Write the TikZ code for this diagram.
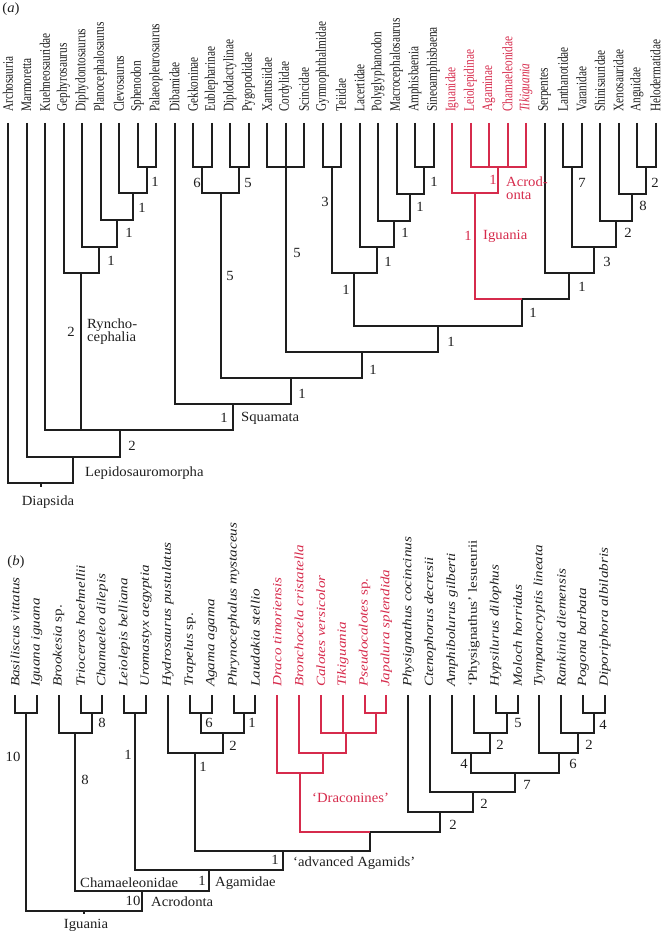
\documentclass[tikz,border=0pt]{standalone}
\usepackage{fontspec}
\setmainfont{Liberation Serif}
\newfontfamily\tipafamily[FakeStretch=0.78]{Liberation Serif}
\newfontfamily\tipbfamily[FakeStretch=1.2]{Liberation Serif}
\newfontfamily\lblfamily[FakeStretch=1.05]{Liberation Serif}
\definecolor{ink}{HTML}{1E1E1E}
\definecolor{cladered}{RGB}{214,43,76}
\tikzset{
    branch/.style={draw=ink, line width=2pt},
    redbranch/.style={draw=cladered, line width=2pt},
    tipa/.style={rotate=90, anchor=west, inner sep=0pt, text=ink, font=\tipafamily\fontsize{14.5}{16}\selectfont},
    tipb/.style={rotate=90, anchor=west, inner sep=0pt, text=ink, font=\tipbfamily\fontsize{12.6}{14}\selectfont\itshape},
    support/.style={inner sep=0pt, text=ink, font=\lblfamily\fontsize{14}{15}\selectfont},
    cladename/.style={support, anchor=west, align=left}
}

\begin{document}
\begin{tikzpicture}[x=1pt, y=-1pt]
\useasboundingbox (0,0) rectangle (664,933);

% ---------- (a) ----------
\node[support] (panela) at (11,9) {(\textit{a})};
\foreach \name [count=\i from 0] in {Archosauria, Marmoretta, Kuehneosauridae, Gephyrosaurus, Diphydontosaurus, Planocephalosaurus, Clevosaurus, Sphenodon, Palaeopleurosaurus, Dibamidae, Gekkoninae, Eublepharinae, Diplodactylinae, Pygopodidae, Xantusiidae, Cordylidae, Scincidae, Gymnophthalmidae, Teiidae, Lacertidae, Polyglyphanodon, Macrocephalosaurus, Amphisbaenia, Sineoamphisbaena}{
    \coordinate (a\i) at ({8+18.5*\i},123);
    \node[tipa] (ta\i) at ({8+18.5*\i},112) {\name};
}
\foreach \name [count=\i from 24] in {Iguanidae, Leiolepidinae, Agaminae, Chamaeleonidae, \textit{Tikiguania}}{
    \coordinate (a\i) at ({8+18.5*\i},123);
    \node[tipa, text=cladered] (ta\i) at ({8+18.5*\i},112) {\name};
}
\foreach \name [count=\i from 29] in {Serpentes, Lanthanotidae, Varanidae, Shinisauridae, Xenosauridae, Anguidae, Helodermatidae}{
    \coordinate (a\i) at ({8+18.5*\i},123);
    \node[tipa] (ta\i) at ({8+18.5*\i},112) {\name};
}

% internal nodes (a)
\coordinate (sph) at (146.75,167);
\coordinate (clev) at (132.9,193);
\coordinate (plan) at (116.7,220);
\coordinate (diph) at (99.3,247);
\coordinate (rhyn) at (81.4,273);
\coordinate (gek1) at (202.25,167);
\coordinate (gek2) at (239.25,167);
\coordinate (gekk) at (220.75,193);
\coordinate (scin) at (285.5,167);
\coordinate (teii) at (331.75,167);
\coordinate (amph) at (424.25,167);
\coordinate (macr) at (410.4,194);
\coordinate (poly) at (394.2,221);
\coordinate (lace) at (376.9,247);
\coordinate (lacO) at (354.3,273);
\coordinate (acro) at (498.25,167.5);
\coordinate (igua) at (475.1,193);
\coordinate (vara) at (572.25,167);
\coordinate (angu) at (646.25,167);
\coordinate (xeno) at (632.4,194);
\coordinate (shin) at (616.2,221);
\coordinate (angm) at (594.2,247);
\coordinate (serp) at (569.4,273);
\coordinate (toxi) at (522.2,299);
\coordinate (lacT) at (438.3,326);
\coordinate (scle) at (361.9,352);
\coordinate (squ2) at (291.3,378);
\coordinate (squa) at (232.9,404);
\coordinate (lepi) at (119.8,430);
\coordinate (lepm) at (73.2,457);
\coordinate (diap) at (40.6,483);
\coordinate (rootA) at (40.6,487);

\foreach \c/\p in {a7/sph, a8/sph, a6/clev, sph/clev, a5/plan, clev/plan, a4/diph, plan/diph, a3/rhyn, diph/rhyn,
    a2/lepi, rhyn/lepi, squa/lepi, a1/lepm, lepi/lepm, a0/diap, lepm/diap, a9/squa, squ2/squa, gekk/squ2, scle/squ2,
    gek1/gekk, gek2/gekk, a10/gek1, a11/gek1, a12/gek2, a13/gek2, a14/scin, a15/scin, a16/scin, scin/scle, lacT/scle,
    lacO/lacT, toxi/lacT, teii/lacO, lace/lacO, a17/teii, a18/teii, a19/lace, poly/lace, a20/poly, macr/poly,
    a21/macr, amph/macr, a22/amph, a23/amph, serp/toxi, a29/serp, angm/serp, vara/angm, shin/angm, a30/vara,
    a31/vara, a32/shin, xeno/shin, a33/xeno, angu/xeno, a34/angu, a35/angu}
    \draw[branch] (\c) |- (\p);
\foreach \c/\p in {a24/igua, acro/igua, a25/acro, a26/acro, a27/acro, a28/acro, igua/toxi}
    \draw[redbranch] (\c) |- (\p);
\draw[branch] (diap) -- (rootA);

% support values (a)
\foreach \n/\x/\y/\t in {sph/155/182/1, clev/142/208/1, plan/129/233/1, diph/111/261/1, rhyn/71/332/2,
    gek1/197/183/6, gek2/248/183/5, gekk/230/276/5, scin/297/253/5, teii/325/202/3, amph/434/182/1,
    macr/420/207/1, poly/405/233/1, lace/388/262/1, lacO/346/290/1, vara/582/183/7, angu/655/183/2,
    xeno/643/206/8, shin/628/233/2, angm/607/262/3, serp/582/287/1, toxi/533/313/1, lacT/451/342/1,
    scle/373/370/1, squ2/302/394/1, squa/224/418/1, lepi/132/446/2}
    \node[support] (s-\n) at (\x,\y) {\t};
\node[support, text=cladered] (s-acro) at (493,180) {1};
\node[support, text=cladered] (s-igua) at (468,236) {1};

% clade names (a)
\node[cladename] (rhyncho) at (87,332) {Ryncho-\\[-2pt]cephalia};
\node[cladename] (squamata) at (241,418) {Squamata};
\node[cladename] (lepido) at (85,473) {Lepidosauromorpha};
\node[support] (diapsida) at (48,502) {Diapsida};
\node[cladename, text=cladered] (acrodA) at (506,188) {Acrod-\\[-2pt]onta};
\node[cladename, text=cladered] (iguaniaA) at (483,236) {Iguania};

% ---------- (b) ----------
\node[support] (panelb) at (16,562) {(\textit{b})};
\foreach \name [count=\i from 0] in {Basiliscus vittatus, Iguana iguana, Brookesia {\upshape sp.}, Trioceros hoehnellii,
    Chamaeleo dilepis, Leiolepis belliana, Uromastyx aegyptia, Hydrosaurus pustulatus, Trapelus {\upshape sp.},
    Agama agama, Phrynocephalus mystaceus, Laudakia stellio}{
    \coordinate (b\i) at ({15+21.85*\i},695);
    \node[tipb] (tb\i) at ({15+21.85*\i},687) {\name};
}
\foreach \name [count=\i from 12] in {Draco timoriensis, Bronchocela cristatella, Calotes versicolor, Tikiguania,
    Pseudocalotes {\upshape sp.}, Japalura splendida}{
    \coordinate (b\i) at ({15+21.85*\i},695);
    \node[tipb, text=cladered] (tb\i) at ({15+21.85*\i},687) {\name};
}
\foreach \name [count=\i from 18] in {Physignathus cocincinus, Ctenophorus decresii, Amphibolurus gilberti,
    {\upshape ‘Physignathus’ lesueurii}, Hypsilurus dilophus, Moloch horridus, Tympanocryptis lineata,
    Rankinia diemensis, Pogona barbata, Diporiphora albilabris}{
    \coordinate (b\i) at ({15+21.85*\i},695);
    \node[tipb] (tb\i) at ({15+21.85*\i},687) {\name};
}

% internal nodes (b)
\coordinate (iguI) at (25.9,713);
\coordinate (cha1) at (91.5,713);
\coordinate (cham) at (75.1,733);
\coordinate (leio) at (135.2,713);
\coordinate (trag) at (200.7,713);
\coordinate (phla) at (244.4,713);
\coordinate (agph) at (222.6,733);
\coordinate (hydr) at (195.3,753);
\coordinate (pjap) at (375.5,713);
\coordinate (calo) at (346.4,733);
\coordinate (bron) at (322.7,753);
\coordinate (drac) at (300.1,773);
\coordinate (hymo) at (506.6,713);
\coordinate (phyl) at (490.2,733);
\coordinate (ambo) at (471.1,753);
\coordinate (podi) at (594,713);
\coordinate (rank) at (577.6,733);
\coordinate (tymp) at (558.5,753);
\coordinate (aust) at (514.8,773);
\coordinate (cten) at (472.5,792);
\coordinate (phyc) at (440.4,812);
\coordinate (drph) at (370.2,832);
\coordinate (adva) at (282.8,851);
\coordinate (agam) at (209,870);
\coordinate (acrb) at (142,891);
\coordinate (igub) at (84,911);
\coordinate (rootB) at (84,914);

\foreach \c/\p in {b0/iguI, b1/iguI, b3/cha1, b4/cha1, b2/cham, cha1/cham, b5/leio, b6/leio, b8/trag, b9/trag,
    b10/phla, b11/phla, trag/agph, phla/agph, b7/hydr, agph/hydr, b22/hymo, b23/hymo, b21/phyl, hymo/phyl,
    b20/ambo, phyl/ambo, b26/podi, b27/podi, b25/rank, podi/rank, b24/tymp, rank/tymp, ambo/aust, tymp/aust,
    b19/cten, aust/cten, b18/phyc, cten/phyc, phyc/drph, hydr/adva, drph/adva, leio/agam, adva/agam,
    cham/acrb, agam/acrb, iguI/igub, acrb/igub}
    \draw[branch] (\c) |- (\p);
\foreach \c/\p in {b16/pjap, b17/pjap, b14/calo, b15/calo, pjap/calo, b13/bron, calo/bron, b12/drac, bron/drac, drac/drph}
    \draw[redbranch] (\c) |- (\p);
\draw[branch] (igub) -- (rootB);

% support values (b)
\foreach \n/\x/\y/\t in {iguI/13/757/10, cha1/102/723/8, cham/85/780/8, leio/128/755/1, trag/209/723/6,
    phla/252/723/1, agph/233/746/2, hydr/203/767/1, hymo/518/723/5, phyl/500/745/2, ambo/464/764/4,
    podi/603/725/4, rank/589/745/2, tymp/573/764/6, aust/527/785/7, cten/484/804/2, phyc/453/825/2,
    adva/275/860/1, agam/202/881/1, acrb/133/901/10}
    \node[support] (s-\n) at (\x,\y) {\t};

% clade names (b)
\node[cladename] (chamname) at (80,883) {Chamaeleonidae};
\node[cladename, text=cladered] (dracname) at (312,798) {‘Draconines’};
\node[cladename] (advname) at (293,863) {‘advanced Agamids’};
\node[cladename] (agamname) at (215,883) {Agamidae};
\node[cladename] (acroname) at (151,902) {Acrodonta};
\node[support] (iguname) at (86,925) {Iguania};
\end{tikzpicture}
\end{document}
